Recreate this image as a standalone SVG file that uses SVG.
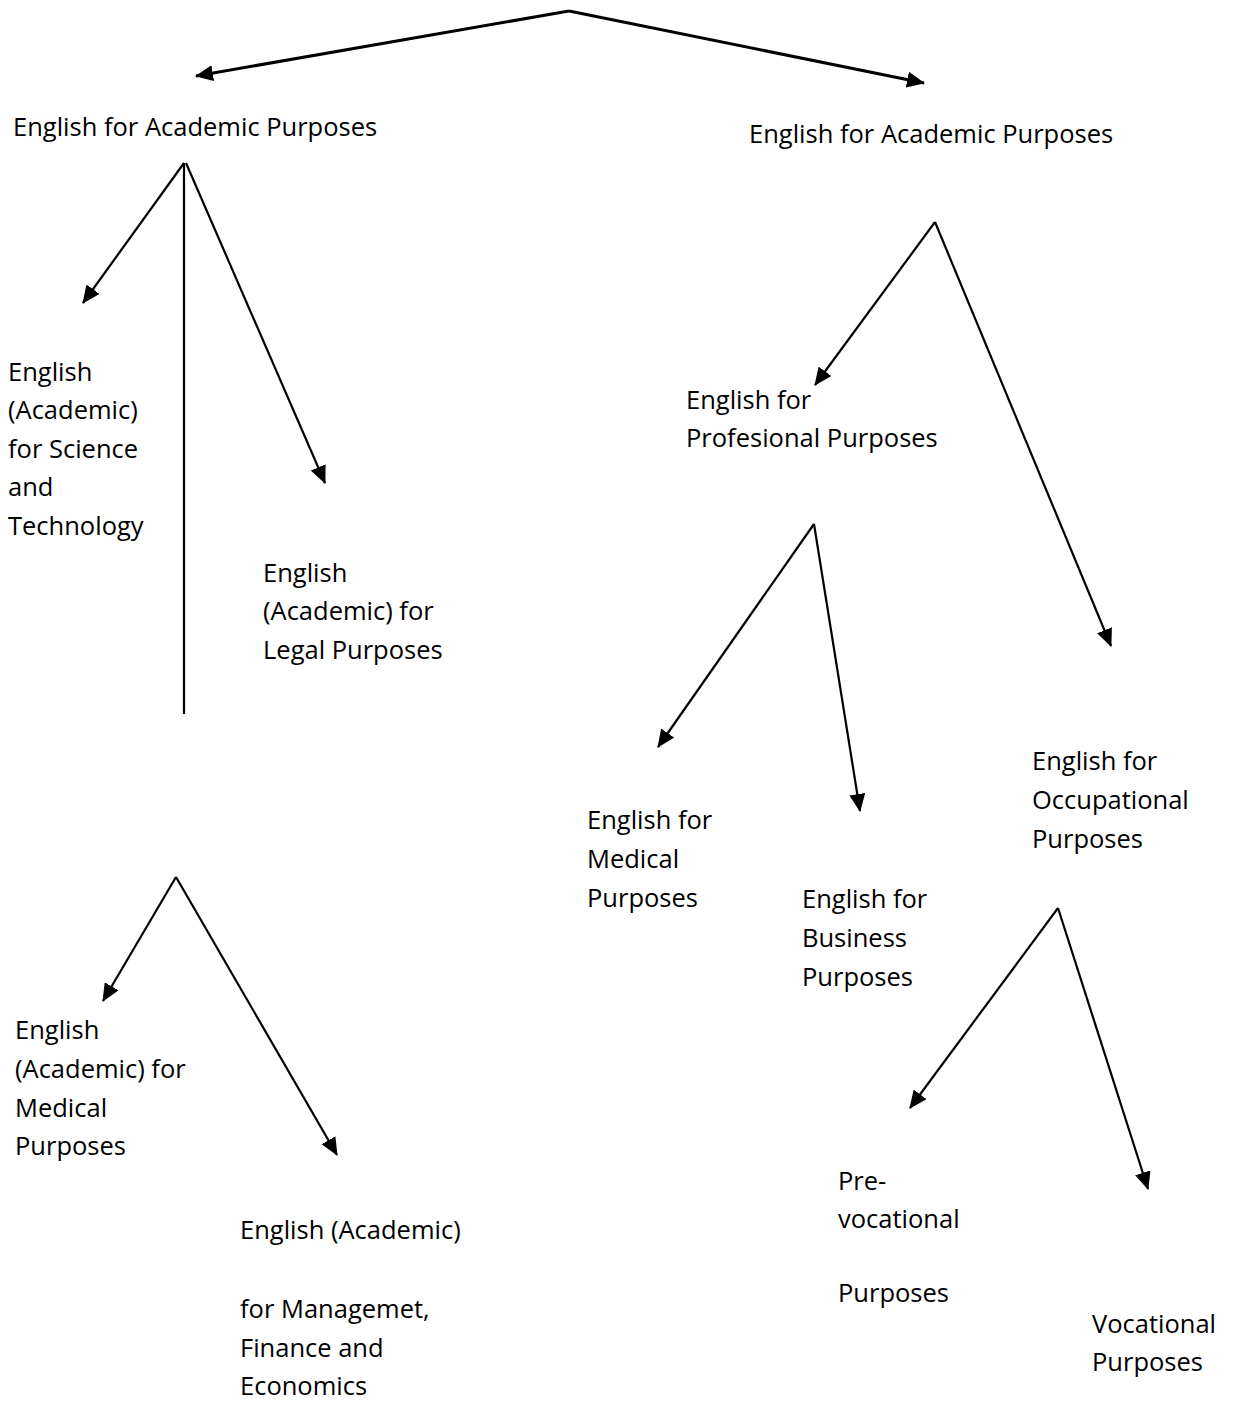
<svg xmlns="http://www.w3.org/2000/svg" width="1233" height="1401" viewBox="0 0 1233 1401">
<style>
text{font-family:"Open Sans","Liberation Sans",Arial,sans-serif;font-size:25.5px;fill:#000}
.c line{stroke:#000;stroke-width:2.2;fill:none}
.c line.t{stroke-width:3}
</style>
<defs>
<marker id="ah" markerUnits="userSpaceOnUse" markerWidth="18" markerHeight="16" refX="17" refY="8" orient="auto" viewBox="0 0 18 16">
<path d="M0,0 L18,8 L0,16 z" fill="#000"/>
</marker>
</defs>
<rect width="1233" height="1401" fill="#fff"/>
<g class="c" id="connectors">
<line class="t" x1="569" y1="11" x2="196" y2="76" marker-end="url(#ah)"/>
<line class="t" x1="569" y1="11" x2="924" y2="83" marker-end="url(#ah)"/>
<line x1="184" y1="163" x2="83" y2="303" marker-end="url(#ah)"/>
<line x1="184" y1="163" x2="184" y2="714"/>
<line x1="186" y1="163" x2="325" y2="483" marker-end="url(#ah)"/>
<line x1="935" y1="222" x2="815" y2="385" marker-end="url(#ah)"/>
<line x1="935" y1="222" x2="1111" y2="646" marker-end="url(#ah)"/>
<line x1="814" y1="524" x2="658" y2="747" marker-end="url(#ah)"/>
<line x1="814" y1="524" x2="860" y2="811" marker-end="url(#ah)"/>
<line x1="176" y1="877" x2="103" y2="1001" marker-end="url(#ah)"/>
<line x1="176" y1="877" x2="337" y2="1155" marker-end="url(#ah)"/>
<line x1="1058" y1="908" x2="910" y2="1108" marker-end="url(#ah)"/>
<line x1="1058" y1="908" x2="1148" y2="1189" marker-end="url(#ah)"/>
</g>
<g id="n-eap-left"><text x="13" y="136">English for Academic Purposes</text></g>
<g id="n-eap-right"><text x="749" y="143">English for Academic Purposes</text></g>
<g id="n-est"><text x="8" y="381">English</text><text x="8" y="419">(Academic)</text><text x="8" y="458">for Science</text><text x="8" y="496">and</text><text x="8" y="535">Technology</text></g>
<g id="n-legal"><text x="263" y="582">English</text><text x="263" y="620">(Academic) for</text><text x="263" y="659">Legal Purposes</text></g>
<g id="n-prof"><text x="686" y="409">English for</text><text x="686" y="447">Profesional Purposes</text></g>
<g id="n-med"><text x="587" y="829">English for</text><text x="587" y="868">Medical</text><text x="587" y="907">Purposes</text></g>
<g id="n-bus"><text x="802" y="908">English for</text><text x="802" y="947">Business</text><text x="802" y="986">Purposes</text></g>
<g id="n-occ"><text x="1032" y="770">English for</text><text x="1032" y="809">Occupational</text><text x="1032" y="848">Purposes</text></g>
<g id="n-acmed"><text x="15" y="1039">English</text><text x="15" y="1078">(Academic) for</text><text x="15" y="1117">Medical</text><text x="15" y="1155">Purposes</text></g>
<g id="n-mfe"><text x="240" y="1239">English (Academic)</text><text x="240" y="1318">for Managemet,</text><text x="240" y="1357">Finance and</text><text x="240" y="1395">Economics</text></g>
<g id="n-prevoc"><text x="838" y="1190">Pre-</text><text x="838" y="1228">vocational</text><text x="838" y="1302">Purposes</text></g>
<g id="n-voc"><text x="1092" y="1333">Vocational</text><text x="1092" y="1371">Purposes</text></g>
</svg>
